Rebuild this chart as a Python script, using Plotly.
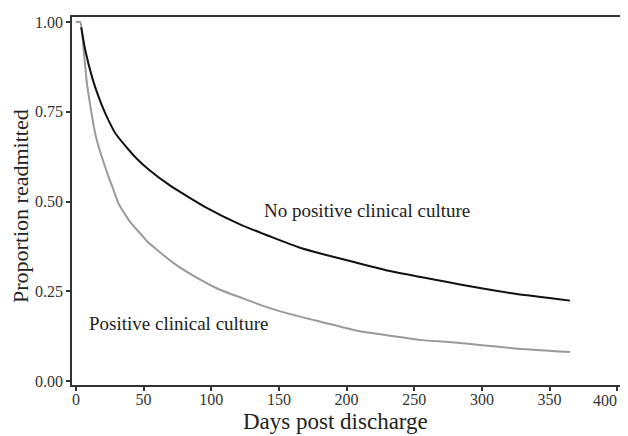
import plotly.graph_objects as go

# Black curve: No positive clinical culture
days_neg = [3.9, 6.9, 11.8, 16.7, 21.6, 26.5, 29, 38.8, 44.8, 53.5, 69.4, 96.3, 120.8, 145.3, 165,
            182, 206.8, 231, 255.8, 275.5, 288, 324.6, 365]
prop_neg = [0.985, 0.922, 0.848, 0.792, 0.746, 0.708, 0.691, 0.645, 0.62, 0.59, 0.545, 0.483, 0.437,
            0.40, 0.372, 0.354, 0.33, 0.307, 0.289, 0.275, 0.266, 0.243, 0.224]

# Gray curve: Positive clinical culture
days_pos = [0, 3.2, 5.7, 8.1, 10.5, 14.2, 17, 20, 24, 27.5, 31.4, 37.4, 41.3, 47.1, 52.3, 71.7,
            91.5, 106, 120.8, 141, 157.6, 182, 206.8, 231, 255.8, 275.5, 300, 324.6, 365]
prop_pos = [1.0, 1.0, 0.922, 0.83, 0.77, 0.69, 0.65, 0.615, 0.57, 0.535, 0.495, 0.458, 0.437, 0.413,
            0.39, 0.33, 0.283, 0.255, 0.234, 0.206, 0.187, 0.164, 0.141, 0.127, 0.114, 0.109, 0.10,
            0.091, 0.081]

x_ticks = [0, 50, 100, 150, 200, 250, 300, 350, 400]
x_labels = ["0", "50", "100", "150", "200", "250", "300", "350", "400"]
y_ticks = [0.0, 0.25, 0.5, 0.75, 1.0]
y_labels = ["0.00", "0.25", "0.50", "0.75", "1.00"]

FONT = "Liberation Serif"

fig = go.Figure()
fig.add_trace(go.Scatter(x=days_pos, y=prop_pos, mode="lines",
                         line=dict(color="#9a9a9a", width=2, shape="spline", smoothing=0.5),
                         showlegend=False))
fig.add_trace(go.Scatter(x=days_neg, y=prop_neg, mode="lines",
                         line=dict(color="#111111", width=2, shape="spline", smoothing=0.5),
                         showlegend=False))

fig.add_annotation(x=215, y=0.474, text="No positive clinical culture", showarrow=False,
                   font=dict(family=FONT, size=19, color="#222"))
fig.add_annotation(x=75.6, y=0.16, text="Positive clinical culture", showarrow=False,
                   font=dict(family=FONT, size=19, color="#222"))

# axis titles as annotations for precise placement
fig.add_annotation(x=191.5, xref="x", y=0, yref="paper", yanchor="middle", yshift=-36,
                   text="Days post discharge", showarrow=False,
                   font=dict(family=FONT, size=23, color="#222"))
fig.add_annotation(x=0, xref="paper", xanchor="center", xshift=-52, y=0.5, yref="paper",
                   yshift=-5, textangle=-90, text="Proportion readmitted", showarrow=False,
                   font=dict(family=FONT, size=22, color="#222"))

# last x tick label sits flush against the right edge, as in the reference
fig.add_annotation(x=x_ticks[-1], xref="x", xanchor="right", xshift=2, y=0, yref="paper",
                   yanchor="middle", yshift=-15, text=x_labels[-1], showarrow=False,
                   font=dict(family=FONT, size=16, color="#333"))

axis_common = dict(showline=True, linecolor="#333", linewidth=1.5, mirror=True,
                   ticks="outside", ticklen=4, tickwidth=1.5, tickcolor="#333",
                   showgrid=False, zeroline=False,
                   tickfont=dict(family=FONT, size=16, color="#333"))

fig.update_xaxes(range=[-2.9, 402], tickvals=x_ticks, ticktext=x_labels[:-1] + [""],
                 ticklabelstandoff=-5, **axis_common)
fig.update_yaxes(range=[-0.011, 1.014], tickvals=y_ticks, ticktext=y_labels, **axis_common)

# page body has an 8px margin, so the figure is shrunk and margins shifted to compensate
fig.update_layout(width=620, height=428, margin=dict(l=64, r=6, t=7, b=51),
                  plot_bgcolor="white", paper_bgcolor="white")

fig.write_html("out.html")
